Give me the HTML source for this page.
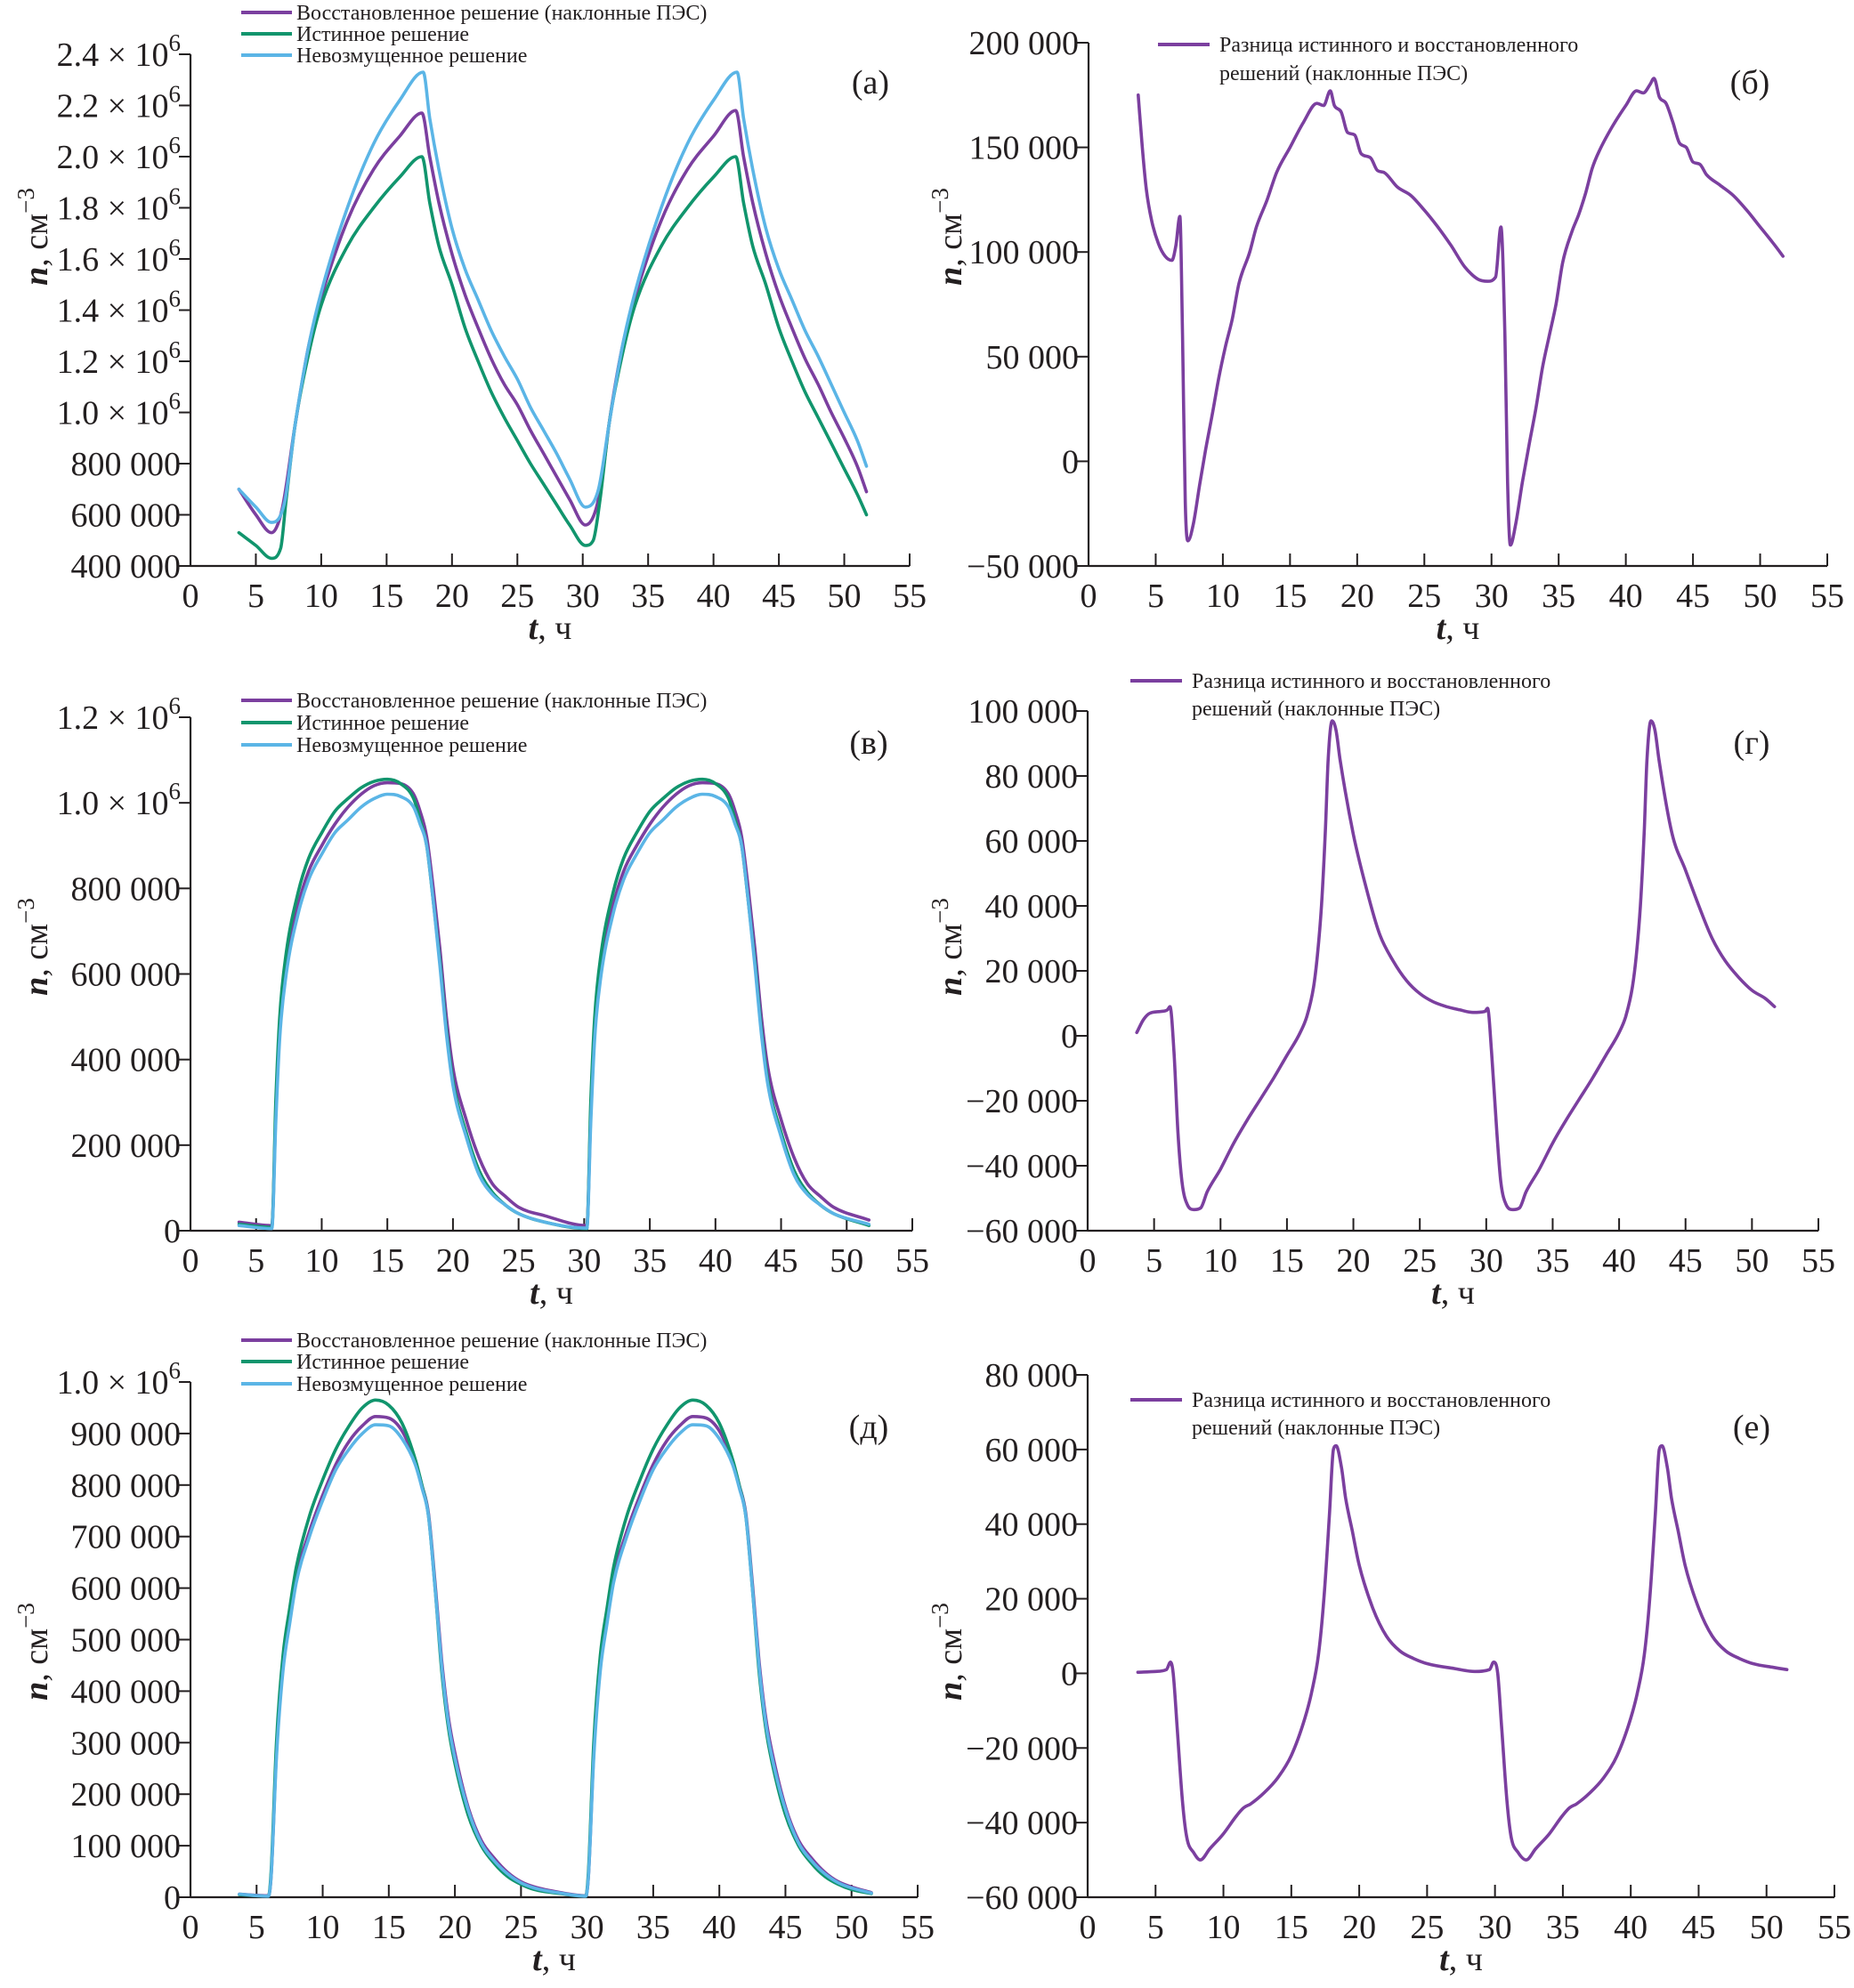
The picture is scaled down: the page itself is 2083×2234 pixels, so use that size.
<!DOCTYPE html>
<html><head><meta charset="utf-8">
<style>
html,body{margin:0;padding:0;background:#fff;}
svg{display:block;}
text{font-family:"Liberation Serif",serif;fill:#231f20;}
</style></head>
<body>
<svg id="fig" xmlns="http://www.w3.org/2000/svg" width="2083" height="2234" viewBox="0 0 2083 2234"></svg>
<script>
// ---- data (t in hours, values: a/в/д in 10^6 cm^-3, б/г/е in 10^3 cm^-3) ----
const xTicks = [0,5,10,15,20,25,30,35,40,45,50,55];
const xTickLabels = ["0","5","10","15","20","25","30","35","40","45","50","55"];

const ticksA = [0.4,0.6,0.8,1.0,1.2,1.4,1.6,1.8,2.0,2.2,2.4];
const labelsA = ["400 000","600 000","800 000","1.0 × 10^6","1.2 × 10^6","1.4 × 10^6","1.6 × 10^6","1.8 × 10^6","2.0 × 10^6","2.2 × 10^6","2.4 × 10^6"];
const ticksB = [-50,0,50,100,150,200];
const labelsB = ["−50 000","0","50 000","100 000","150 000","200 000"];
const ticksV = [0,0.2,0.4,0.6,0.8,1.0,1.2];
const labelsV = ["0","200 000","400 000","600 000","800 000","1.0 × 10^6","1.2 × 10^6"];
const ticksG = [-60,-40,-20,0,20,40,60,80,100];
const labelsG = ["−60 000","−40 000","−20 000","0","20 000","40 000","60 000","80 000","100 000"];
const ticksD = [0,0.1,0.2,0.3,0.4,0.5,0.6,0.7,0.8,0.9,1.0];
const labelsD = ["0","100 000","200 000","300 000","400 000","500 000","600 000","700 000","800 000","900 000","1.0 × 10^6"];
const ticksE = [-60,-40,-20,0,20,40,60,80];
const labelsE = ["−60 000","−40 000","−20 000","0","20 000","40 000","60 000","80 000"];

const aRestored = [[3.7,0.70],[5,0.60],[6.2,0.53],[7,0.62],[8,0.95],[9,1.25],[10,1.45],[12,1.75],[14,1.95],[16,2.08],[17.7,2.17],[18.3,2.0],[19,1.82],[20,1.62],[21,1.46],[22,1.33],[23,1.21],[24,1.11],[25,1.03],[26,0.93],[27,0.84],[28,0.75],[29,0.66],[30.2,0.56],[31,0.62],[31.5,0.75],[32,0.95],[33,1.25],[34,1.45],[36,1.75],[38,1.95],[40,2.08],[41.7,2.18],[42.3,2.0],[43,1.82],[44,1.62],[45,1.46],[46,1.33],[47,1.21],[48,1.11],[49,1.0],[50,0.9],[51,0.79],[51.7,0.69]];
const aTrue = [[3.7,0.53],[5,0.48],[6.2,0.43],[6.9,0.47],[7.3,0.65],[8,0.95],[9,1.22],[10,1.42],[12,1.65],[14,1.8],[16,1.92],[17.7,2.0],[18.3,1.82],[19,1.65],[20,1.50],[21,1.33],[22,1.20],[23,1.08],[24,0.98],[25,0.89],[26,0.80],[27,0.72],[28,0.64],[29,0.56],[30.2,0.48],[30.8,0.50],[31.3,0.65],[32,0.95],[33,1.22],[34,1.42],[36,1.65],[38,1.8],[40,1.92],[41.7,2.0],[42.3,1.82],[43,1.65],[44,1.50],[45,1.33],[46,1.20],[47,1.08],[48,0.98],[49,0.88],[50,0.78],[51,0.68],[51.7,0.60]];
const aUnpert = [[3.7,0.70],[5,0.63],[6.2,0.57],[7.2,0.65],[8,0.95],[9,1.25],[10,1.47],[12,1.8],[14,2.05],[16,2.22],[17.8,2.33],[18.3,2.15],[19,1.95],[20,1.72],[21,1.56],[22,1.44],[23,1.32],[24,1.22],[25,1.13],[26,1.02],[27,0.93],[28,0.84],[29,0.74],[30.2,0.63],[31.2,0.70],[32,0.95],[33,1.25],[34,1.47],[36,1.8],[38,2.05],[40,2.22],[41.8,2.33],[42.3,2.15],[43,1.95],[44,1.72],[45,1.56],[46,1.44],[47,1.32],[48,1.22],[49,1.11],[50,1.0],[51,0.89],[51.7,0.79]];

const bDiff = [[3.7,175],[4.0,150],[4.3,130],[4.7,115],[5.2,104],[5.7,98],[6.2,96],[6.5,103],[6.8,117],[7.0,60],[7.2,-20],[7.4,-38],[7.8,-30],[8.3,-10],[8.7,5],[9.2,22],[9.7,40],[10.2,55],[10.7,68],[11.2,85],[12,100],[12.5,112],[13.3,125],[14,138],[15,150],[16,162],[17,171],[17.5,170],[18,177],[18.3,170],[18.8,167],[19.3,157],[19.8,156],[20.3,147],[21,145],[21.5,139],[22,138],[23,131],[24,127],[25,120],[26,112],[27,103],[28,93],[29,87],[29.7,86],[30.3,88],[30.7,112],[31,60],[31.2,-10],[31.4,-40],[31.8,-30],[32.3,-10],[32.8,8],[33.3,25],[33.8,45],[34.3,60],[34.8,75],[35.3,95],[36,110],[36.5,118],[37,128],[37.5,140],[38,148],[39,160],[40,170],[40.8,177],[41.3,176],[41.8,180],[42.1,183],[42.5,174],[43,171],[43.5,162],[44,152],[44.5,150],[45,143],[45.5,142],[46,137],[47,132],[48,127],[49,120],[50,112],[51,104],[51.7,98]];

const vRestored = [[3.7,.02],[6.2,.012],[6.5,.27],[6.8,.47],[7.3,.62],[8.2,.76],[9,.84],[10,.9],[11,.95],[12,.99],[13,1.02],[14,1.04],[15,1.047],[16,1.045],[17,1.02],[17.5,.98],[18,.92],[18.5,.8],[19,.66],[19.5,.5],[20,.38],[21,.26],[22,.17],[23,.11],[24,.08],[25,.055],[27,.035],[30.2,.012],[30.5,.27],[30.8,.47],[31.3,.62],[32.2,.76],[33,.84],[34,.9],[35,.95],[36,.99],[37,1.02],[38,1.04],[39,1.047],[40,1.045],[41,1.02],[41.5,.98],[42,.92],[42.5,.8],[43,.66],[43.5,.5],[44,.38],[45,.26],[46,.17],[47,.11],[48,.08],[49,.055],[51.7,.025]];
const vTrue = [[3.7,.015],[6.2,.008],[6.5,.3],[6.8,.5],[7.3,.65],[8.2,.79],[9,.87],[10,.93],[11,.98],[12,1.01],[13,1.035],[14,1.05],[15,1.055],[16,1.045],[17,1.01],[17.5,.96],[18,.9],[18.5,.77],[19,.63],[19.5,.47],[20,.35],[21,.23],[22,.14],[23,.09],[24,.06],[25,.04],[27,.02],[30.2,.005],[30.5,.3],[30.8,.5],[31.3,.65],[32.2,.79],[33,.87],[34,.93],[35,.98],[36,1.01],[37,1.035],[38,1.05],[39,1.055],[40,1.045],[41,1.01],[41.5,.96],[42,.9],[42.5,.77],[43,.63],[43.5,.47],[44,.35],[45,.23],[46,.14],[47,.09],[48,.06],[49,.04],[51.7,.012]];
const vUnpert = [[3.7,.012],[6.2,.005],[6.5,.25],[6.8,.45],[7.3,.6],[8.2,.74],[9,.82],[10,.88],[11,.93],[12,.96],[13,.99],[14,1.01],[15,1.02],[16,1.015],[17,.99],[17.5,.95],[18,.9],[18.5,.77],[19,.62],[19.5,.46],[20,.34],[21,.22],[22,.13],[23,.085],[24,.06],[25,.04],[27,.02],[30.2,.006],[30.5,.25],[30.8,.45],[31.3,.6],[32.2,.74],[33,.82],[34,.88],[35,.93],[36,.96],[37,.99],[38,1.01],[39,1.02],[40,1.015],[41,.99],[41.5,.95],[42,.9],[42.5,.77],[43,.62],[43.5,.46],[44,.34],[45,.22],[46,.13],[47,.085],[48,.06],[49,.04],[51.7,.015]];

const gDiff = [[3.7,1],[4.2,5],[4.7,7],[5.5,7.5],[6,8],[6.2,9],[6.5,-5],[6.8,-30],[7.1,-45],[7.5,-52],[8,-53.5],[8.5,-53],[9,-48],[10,-41],[11,-33],[12,-26],[13,-19.5],[14,-13],[15,-6],[16,1],[16.5,6],[17,15],[17.3,25],[17.6,40],[17.9,64],[18.1,85],[18.4,97],[18.7,94],[19,85],[20,62],[21,45],[22,31],[23,23],[24,17],[25,13],[26,10.5],[27,9],[28,8],[29,7.2],[29.9,7.5],[30.1,8.5],[30.4,-5],[30.8,-30],[31.1,-45],[31.5,-52],[32,-53.5],[32.5,-53],[33,-48],[34,-41],[35,-33],[36,-26],[37,-19.5],[38,-13],[39,-6],[40,1],[40.5,6],[41,15],[41.3,25],[41.6,40],[41.9,64],[42.1,85],[42.4,97],[42.7,94],[43,85],[44,62],[45,51],[46,40],[47,30],[48,23],[49,18],[50,14],[51,11.5],[51.7,9]];

const dTrue = [[3.7,.005],[5.9,.002],[6.1,.05],[6.5,.3],[7,.47],[7.5,.56],[8,.64],[9,.74],[10,.81],[11,.87],[12,.915],[13,.95],[14,.965],[15,.955],[16,.92],[17,.85],[17.5,.8],[18,.74],[18.5,.6],[19,.44],[19.5,.33],[20,.26],[21,.16],[22,.1],[23,.065],[24,.04],[25,.025],[26,.015],[28,.007],[29.9,.002],[30.1,.05],[30.5,.3],[31,.47],[31.5,.56],[32,.64],[33,.74],[34,.81],[35,.87],[36,.915],[37,.95],[38,.965],[39,.955],[40,.92],[41,.85],[41.5,.8],[42,.74],[42.5,.6],[43,.44],[43.5,.33],[44,.26],[45,.16],[46,.1],[47,.065],[48,.04],[49,.025],[50,.015],[51.5,.007]];
const dRestored = [[3.7,.006],[5.9,.003],[6.1,.04],[6.5,.28],[7,.45],[7.5,.54],[8,.62],[9,.71],[10,.78],[11,.84],[12,.885],[13,.915],[14,.933],[15,.93],[16,.905],[17,.845],[17.5,.8],[18,.745],[18.5,.61],[19,.46],[19.5,.35],[20,.28],[21,.175],[22,.11],[23,.075],[24,.048],[25,.03],[26,.02],[28,.009],[29.9,.003],[30.1,.04],[30.5,.28],[31,.45],[31.5,.54],[32,.62],[33,.71],[34,.78],[35,.84],[36,.885],[37,.915],[38,.933],[39,.93],[40,.905],[41,.845],[41.5,.8],[42,.745],[42.5,.61],[43,.46],[43.5,.35],[44,.28],[45,.175],[46,.11],[47,.075],[48,.048],[49,.03],[50,.02],[51.5,.009]];
const dUnpert = [[3.7,.006],[5.9,.002],[6.1,.04],[6.5,.27],[7,.44],[7.5,.53],[8,.61],[9,.70],[10,.77],[11,.83],[12,.87],[13,.9],[14,.917],[15,.915],[16,.89],[17,.84],[17.5,.795],[18,.74],[18.5,.6],[19,.45],[19.5,.34],[20,.27],[21,.17],[22,.105],[23,.07],[24,.045],[25,.028],[26,.018],[28,.008],[29.9,.002],[30.1,.04],[30.5,.27],[31,.44],[31.5,.53],[32,.61],[33,.70],[34,.77],[35,.83],[36,.87],[37,.9],[38,.917],[39,.915],[40,.89],[41,.84],[41.5,.795],[42,.74],[42.5,.6],[43,.45],[43.5,.34],[44,.27],[45,.17],[46,.105],[47,.07],[48,.045],[49,.028],[50,.018],[51.5,.008]];

const eDiff = [[3.7,0.3],[5,0.5],[5.8,1],[6.1,3],[6.3,0],[6.6,-15],[7,-35],[7.3,-44],[7.8,-48],[8.3,-50],[9,-47],[10,-43],[11,-38],[11.5,-36],[12,-35],[13,-32],[14,-28],[15,-22],[16,-12],[16.5,-5],[17,5],[17.4,20],[17.8,42],[18.1,60],[18.3,61],[18.7,55],[19,47],[19.5,38],[20,29],[21,17.5],[22,10],[23,6],[24,4],[25,2.6],[27,1.3],[28.5,0.5],[29.6,1],[29.9,3],[30.2,0],[30.5,-15],[30.9,-35],[31.2,-44],[31.7,-48],[32.3,-50],[33,-47],[34,-43],[35,-38],[35.5,-36],[36,-35],[37,-32],[38,-28],[39,-22],[40,-12],[40.5,-5],[41,5],[41.4,20],[41.8,42],[42.1,60],[42.3,61],[42.7,55],[43,47],[43.5,38],[44,29],[45,17.5],[46,10],[47,6],[48,4],[49,2.6],[50.5,1.6],[51.5,1]];

const legend3 = ["Восстановленное решение (наклонные ПЭС)","Истинное решение","Невозмущенное решение"];
const legendDiff = ["Разница истинного и восстановленного","решений (наклонные ПЭС)"];

// ---- drawing ----
const NS = "http://www.w3.org/2000/svg";
const svg = document.getElementById("fig");
const C_PURPLE = "#7b3f9f", C_GREEN = "#11956d", C_BLUE = "#5bb5e6", C_AXIS = "#231f20";

function mk(tag, attrs, parent) {
  const el = document.createElementNS(NS, tag);
  for (const k in attrs) el.setAttribute(k, attrs[k]);
  (parent || svg).appendChild(el);
  return el;
}

// monotone cubic (Fritsch–Carlson) path through screen points
function monoPath(P) {
  const n = P.length;
  if (n < 2) return "";
  const d = [], m = [];
  for (let i = 0; i < n - 1; i++) d.push((P[i+1][1] - P[i][1]) / (P[i+1][0] - P[i][0]));
  m.push(d[0]);
  for (let i = 1; i < n - 1; i++) m.push(d[i-1] * d[i] <= 0 ? 0 : (d[i-1] + d[i]) / 2);
  m.push(d[n-2]);
  for (let i = 0; i < n - 1; i++) {
    if (d[i] === 0) { m[i] = 0; m[i+1] = 0; continue; }
    const a = m[i] / d[i], b = m[i+1] / d[i];
    const s = a * a + b * b;
    if (s > 9) { const t = 3 / Math.sqrt(s); m[i] = t * a * d[i]; m[i+1] = t * b * d[i]; }
  }
  let s = "M" + P[0][0].toFixed(1) + "," + P[0][1].toFixed(1);
  for (let i = 0; i < n - 1; i++) {
    const h = (P[i+1][0] - P[i][0]) / 3;
    s += " C" + (P[i][0] + h).toFixed(1) + "," + (P[i][1] + m[i] * h).toFixed(1) + " " +
         (P[i+1][0] - h).toFixed(1) + "," + (P[i+1][1] - m[i+1] * h).toFixed(1) + " " +
         P[i+1][0].toFixed(1) + "," + P[i+1][1].toFixed(1);
  }
  return s;
}

const panels = [
  {key:"a", letter:"(а)", x0:214, x55:1022, yTop:61, yBot:636, yMin:0.4, yMax:2.4, ticks:ticksA, labels:labelsA,
   series:[{d:aRestored,c:C_PURPLE,n:"restored-solution-line"},{d:aTrue,c:C_GREEN,n:"true-solution-line"},{d:aUnpert,c:C_BLUE,n:"unperturbed-solution-line"}],
   legendType:3, legY:[14,38,62], legX:271, labX:978, labY:92, titleX:40, titleY:266},
  {key:"b", letter:"(б)", x0:1223, x55:2053, yTop:48, yBot:636, yMin:-50, yMax:200, ticks:ticksB, labels:labelsB,
   series:[{d:bDiff,c:C_PURPLE,n:"difference-line"}],
   legendType:1, legY:[50,82], legX:1301, labX:1966, labY:92, titleX:1067, titleY:266},
  {key:"v", letter:"(в)", x0:214, x55:1025, yTop:806, yBot:1383, yMin:0, yMax:1.2, ticks:ticksV, labels:labelsV,
   series:[{d:vRestored,c:C_PURPLE,n:"restored-solution-line"},{d:vTrue,c:C_GREEN,n:"true-solution-line"},{d:vUnpert,c:C_BLUE,n:"unperturbed-solution-line"}],
   legendType:3, legY:[787,812,837], legX:271, labX:976, labY:834, titleX:40, titleY:1064},
  {key:"g", letter:"(г)", x0:1222, x55:2043, yTop:799, yBot:1383, yMin:-60, yMax:100, ticks:ticksG, labels:labelsG,
   series:[{d:gDiff,c:C_PURPLE,n:"difference-line"}],
   legendType:1, legY:[765,796], legX:1270, labX:1968, labY:834, titleX:1067, titleY:1064},
  {key:"d", letter:"(д)", x0:214, x55:1031, yTop:1553, yBot:2132, yMin:0, yMax:1.0, ticks:ticksD, labels:labelsD,
   series:[{d:dRestored,c:C_PURPLE,n:"restored-solution-line"},{d:dTrue,c:C_GREEN,n:"true-solution-line"},{d:dUnpert,c:C_BLUE,n:"unperturbed-solution-line"}],
   legendType:3, legY:[1506,1530,1555], legX:271, labX:976, labY:1603, titleX:40, titleY:1856},
  {key:"e", letter:"(е)", x0:1222, x55:2061, yTop:1545, yBot:2132, yMin:-60, yMax:80, ticks:ticksE, labels:labelsE,
   series:[{d:eDiff,c:C_PURPLE,n:"difference-line"}],
   legendType:1, legY:[1573,1604], legX:1270, labX:1968, labY:1603, titleX:1067, titleY:1856}
];

function sx(p, t) { return p.x0 + (t - 0) / 55 * (p.x55 - p.x0); }
function sy(p, v) { return p.yBot - (v - p.yMin) / (p.yMax - p.yMin) * (p.yBot - p.yTop); }

panels.forEach(p => {
  const g = mk("g", {});
  
  

  const ya = mk("line", {x1:p.x0, y1:p.yTop, x2:p.x0, y2:p.yBot, stroke:C_AXIS, "stroke-width":2.2}, g);
  
  
  const xa = mk("line", {x1:p.x0, y1:p.yBot, x2:p.x55, y2:p.yBot, stroke:C_AXIS, "stroke-width":2.2}, g);
  
  

  xTicks.forEach((t, i) => {
    const x = sx(p, t);
    if (t > 0) {
      const tk = mk("line", {x1:x, y1:p.yBot, x2:x, y2:p.yBot - 14, stroke:C_AXIS, "stroke-width":2}, g);
      
      
    }
    const lb = mk("text", {x:x, y:p.yBot + 46, "text-anchor":"middle", "font-size":38}, g);
    lb.textContent = xTickLabels[i];
    
    
  });

  p.ticks.forEach((v, i) => {
    const y = sy(p, v);
    const tk = mk("line", {x1:p.x0 - 13, y1:y, x2:p.x0, y2:y, stroke:C_AXIS, "stroke-width":2}, g);
    
    
    const s = p.labels[i];
    const lb = mk("text", {x:p.x0 - 11, y:y + 13, "text-anchor":"end", "font-size":38}, g);
    
    
    if (s.indexOf("^") >= 0) {
      const parts = s.split("^");
      const t1 = mk("tspan", {}, lb); t1.textContent = parts[0];
      const t2 = mk("tspan", {dy:-17, "font-size":27}, lb); t2.textContent = parts[1];
    } else {
      lb.textContent = s;
    }
  });

  p.series.forEach(s => {
    const P = s.d.map(q => [sx(p, q[0]), sy(p, q[1])]);
    const pl = mk("path", {d:monoPath(P), fill:"none", stroke:s.c, "stroke-width":3.6, "stroke-linejoin":"round", "stroke-linecap":"round"}, g);
    
    
  });

  const lg = mk("g", {}, g);
  
  
  if (p.legendType === 3) {
    p.series.forEach((s, i) => {
      const ln = mk("line", {x1:p.legX, y1:p.legY[i], x2:p.legX + 57, y2:p.legY[i], stroke:s.c, "stroke-width":4}, lg);
      
      
      const tx = mk("text", {x:p.legX + 62, y:p.legY[i] + 8, "font-size":24}, lg);
      tx.textContent = legend3[i];
      
      
    });
  } else {
    const ln = mk("line", {x1:p.legX, y1:p.legY[0], x2:p.legX + 58, y2:p.legY[0], stroke:C_PURPLE, "stroke-width":4}, lg);
    
    
    legendDiff.forEach((txt, i) => {
      const tx = mk("text", {x:p.legX + 69, y:p.legY[i] + 8, "font-size":24}, lg);
      tx.textContent = txt;
      
      
    });
  }

  const pl = mk("text", {x:p.labX, y:p.labY + 13, "text-anchor":"middle", "font-size":38}, g);
  pl.textContent = p.letter;
  
  

  const xt = mk("text", {x:(p.x0 + p.x55) / 2, y:p.yBot + 82, "text-anchor":"middle", "font-size":38}, g);
  
  
  const xt1 = mk("tspan", {"font-style":"italic", "font-weight":"bold"}, xt); xt1.textContent = "t";
  const xt2 = mk("tspan", {}, xt); xt2.textContent = ", ч";

  const yt = mk("text", {x:0, y:0, "text-anchor":"middle", "font-size":38, transform:"translate(" + (p.titleX + 13) + "," + p.titleY + ") rotate(-90)"}, g);
  
  
  const y1 = mk("tspan", {"font-style":"italic", "font-weight":"bold"}, yt); y1.textContent = "n";
  const y2 = mk("tspan", {}, yt); y2.textContent = ", см";
  const y3 = mk("tspan", {dy:-15, "font-size":27}, yt); y3.textContent = "−3";
});
</script>
</body></html>
